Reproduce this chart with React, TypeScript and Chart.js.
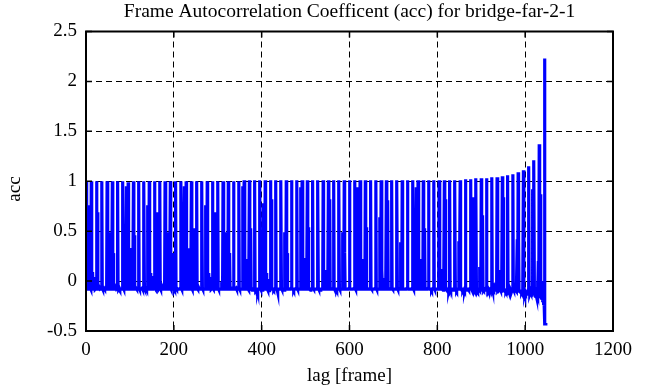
import React, { useEffect, useRef } from 'react';
import { Chart, registerables } from 'chart.js';

Chart.register(...registerables);

const chartTitle = 'Frame Autocorrelation Coefficent (acc) for bridge-far-2-1';
const xLabel = 'lag [frame]';
const yLabel = 'acc';
const xTicks = [0, 200, 400, 600, 800, 1000, 1200];
const yTicks = [-0.5, 0, 0.5, 1, 1.5, 2, 2.5];

// acc value for every lag 0..1047 (one row = 12 lags)
const acc: number[] = [
  1, .62, -.05, -.08, -.07, -.08, -.08, -.08, -.08, .76, -.07, -.08,
  1, -.07, -.08, .09, -.08, -.08, -.07, -.08, .04, -.08, -.08, -.07,
  1, -.06, .69, -.08, -.08, -.08, -.08, -.07, -.08, -.08, -.08, -.07,
  1, -.07, -.08, -.08, -.08, -.07, -.08, -.08, -.08, -.08, -.08, -.07,
  1, -.07, -.08, -.08, -.08, -.08, -.07, -.08, .49, -.08, -.08, -.07,
  1, -.07, .28, -.08, -.08, -.08, -.08, -.08, -.07, -.08, -.08, -.07,
  1, -.07, -.08, -.08, -.07, -.08, -.08, -.08, -.08, -.08, -.08, -.07,
  1, -.07, -.08, -.08, -.08, -.08, -.08, -.07, .95, -.08, -.08, -.07,
  .99, -.07, -.08, -.08, -.08, -.08, -.08, .33, -.08, -.08, -.08, -.07,
  1, -.07, .46, -.08, -.08, -.08, -.07, -.08, -.08, -.08, -.08, -.07,
  1, -.07, -.08, -.08, -.08, -.08, -.08, -.08, -.07, -.08, -.08, -.07,
  1, -.07, -.08, -.08, -.08, -.07, -.08, -.08, .76, -.08, -.08, -.07,
  1, -.07, -.08, .08, -.08, -.08, -.08, .05, -.08, -.08, -.08, -.07,
  1, -.07, -.08, -.08, .69, -.08, -.08, -.08, -.08, -.07, -.08, -.07,
  1, -.07, -.08, -.08, -.08, -.08, -.08, -.07, -.08, -.08, -.08, -.07,
  1, -.07, -.08, -.08, -.08, -.08, -.08, -.08, .49, -.08, -.08, -.07,
  1, -.07, -.08, -.08, .28, -.08, -.08, -.08, -.08, -.07, -.08, -.07,
  1, -.07, -.08, -.07, -.08, -.08, -.08, -.08, -.08, -.08, -.08, -.07,
  1, -.07, -.08, -.08, -.08, -.08, -.08, -.08, .95, -.08, -.08, -.07,
  1, -.07, -.08, -.08, -.08, -.08, -.07, -.08, .33, -.08, -.08, -.07,
  1, -.07, -.08, -.08, .53, -.08, -.08, -.08, -.08, -.08, -.08, -.07,
  1, -.07, -.08, -.08, -.08, -.07, -.08, -.08, -.08, -.08, -.08, -.07,
  1, -.07, -.08, -.08, -.08, -.08, -.08, -.08, -.08, .76, -.08, -.07,
  1, -.07, -.08, -.08, .08, -.08, -.08, -.08, .04, -.08, -.08, -.07,
  1, -.07, -.08, -.08, .69, -.08, -.08, -.07, -.08, -.08, -.08, -.07,
  1, -.07, -.08, -.08, -.08, -.08, -.08, -.08, -.08, -.07, -.08, -.07,
  1, -.07, -.08, -.08, -.08, -.08, -.08, -.08, .49, -.08, -.08, -.07,
  1, -.07, -.08, .28, -.08, -.08, -.08, -.08, -.08, -.08, -.07, -.07,
  1, -.07, -.08, -.08, -.08, -.08, -.07, -.08, -.08, -.08, -.08, -.07,
  1, -.07, -.08, -.08, -.08, -.08, -.08, -.08, -.08, .95, -.08, -.07,
  1.01, -.07, -.08, -.08, -.08, -.08, -.08, -.08, .22, -.08, -.09, -.07,
  1.01, -.07, -.08, .53, -.08, -.08, -.09, -.08, -.08, -.08, -.08, -.07,
  1.01, -.07, -.08, -.09, -.08, -.08, -.08, -.10, -.08, -.08, -.08, -.07,
  1.01, -.07, -.08, -.08, -.08, -.09, -.08, -.08, .78, -.08, -.08, -.07,
  1.01, -.07, -.08, .08, -.08, -.08, -.09, .02, -.08, -.08, -.11, -.07,
  1.01, -.07, .82, -.08, -.08, -.08, -.08, -.08, -.09, -.08, -.08, -.07,
  1.01, -.07, -.08, -.08, -.11, -.08, -.08, -.08, -.08, -.08, -.08, -.07,
  1.01, -.07, -.08, -.08, -.08, -.08, -.08, -.09, -.08, .49, -.08, -.07,
  1.01, -.07, .28, -.08, -.08, -.08, -.08, -.08, -.08, -.08, -.08, -.07,
  1.01, -.07, -.08, -.08, -.08, -.09, -.08, -.08, -.08, -.08, -.08, -.07,
  1.01, -.07, -.08, -.08, -.08, -.08, -.08, -.08, -.08, .94, -.08, -.07,
  1.01, -.07, -.08, -.08, -.08, -.08, -.08, -.08, .23, -.08, -.08, -.07,
  1.01, -.07, .54, -.08, -.08, -.08, -.08, -.09, -.08, -.08, -.08, -.07,
  1.01, -.07, -.08, -.08, -.08, -.08, -.08, -.08, -.08, -.08, -.08, -.07,
  1.01, -.07, -.08, -.08, -.08, -.09, -.08, -.08, -.08, -.08, -.08, -.07,
  1.01, -.07, .11, -.08, -.08, .03, -.08, -.08, -.08, -.08, -.08, -.07,
  1.01, -.07, -.08, .82, -.08, -.08, -.08, -.08, -.08, -.08, -.08, -.07,
  1.01, -.07, -.08, -.08, -.08, -.08, -.08, -.09, -.08, -.08, -.08, -.07,
  1.01, -.07, -.08, -.08, -.08, -.08, -.08, -.08, .49, -.08, -.08, -.07,
  1.01, .29, -.08, -.08, -.08, -.08, -.08, -.08, -.08, -.08, -.08, -.07,
  1.01, -.07, -.08, -.08, -.08, -.08, -.08, -.08, -.08, -.08, -.08, -.07,
  1.01, -.07, -.08, -.08, -.08, -.08, -.08, .94, -.08, -.08, -.08, -.07,
  1.01, -.07, -.08, -.08, -.08, -.08, -.08, -.08, .22, -.08, -.08, -.07,
  1.01, -.07, .54, -.08, -.08, -.08, -.08, -.08, -.08, -.08, -.08, -.07,
  1.01, -.07, -.08, -.08, -.08, -.08, -.08, -.08, -.08, -.08, -.08, -.07,
  1.01, -.07, -.08, -.08, -.08, -.08, -.08, -.08, -.08, .64, -.08, -.07,
  1.01, -.07, .11, -.08, -.08, -.08, .03, -.08, -.08, -.08, -.08, -.07,
  1.01, -.07, -.08, .81, -.08, -.08, -.08, -.08, -.08, -.08, -.08, -.07,
  1.01, -.07, -.08, -.08, -.08, -.08, -.08, -.08, -.08, -.08, -.08, -.07,
  1.01, -.07, -.08, -.08, -.08, -.08, -.08, -.08, .39, -.08, .39, -.07,
  1.01, -.07, -.08, -.08, -.08, -.08, -.08, -.08, -.08, -.08, -.08, -.07,
  1.01, -.07, -.08, -.08, -.08, -.08, -.08, -.08, -.08, -.08, -.08, -.07,
  1.01, -.07, -.08, -.08, -.08, -.08, -.08, -.08, .94, -.08, -.08, -.07,
  1.01, -.07, -.08, -.08, -.08, -.08, -.08, -.08, -.08, .22, -.08, -.07,
  1.01, -.07, -.08, .53, -.08, -.08, -.08, -.08, -.08, -.08, -.08, -.07,
  1.01, -.07, -.08, -.08, -.08, -.08, -.08, -.09, -.08, -.08, -.08, -.07,
  1.01, -.07, -.08, -.08, -.08, -.08, -.08, -.08, -.08, -.08, -.08, -.07,
  1.01, -.07, -.08, .12, -.08, -.08, .02, -.08, -.08, -.09, -.08, -.07,
  1.01, -.07, .82, -.08, -.08, -.09, -.08, -.08, -.08, -.08, -.09, -.07,
  1.01, -.07, -.08, -.09, -.08, -.08, -.08, -.08, -.09, -.08, -.08, -.07,
  1.01, -.07, -.08, -.08, -.09, -.08, -.08, -.08, -.08, .40, -.08, .40,
  1.01, -.07, -.08, -.09, -.08, -.08, -.09, -.08, -.08, -.08, -.09, -.07,
  1.02, -.07, -.08, -.08, -.09, -.08, -.08, -.09, -.08, -.08, -.08, -.07,
  1.02, -.07, -.08, -.09, -.08, -.08, -.08, .84, -.08, -.09, -.08, -.07,
  1.03, -.07, -.08, -.08, -.09, -.08, -.08, -.08, -.09, .14, -.08, -.07,
  1.03, -.07, -.09, .66, -.08, -.08, -.09, -.08, -.08, -.09, -.08, -.07,
  1.03, -.07, -.08, -.09, -.08, -.09, -.08, -.08, -.09, -.08, -.09, -.07,
  1.04, -.07, -.09, -.08, -.09, -.08, -.09, -.08, -.09, -.08, -.09, -.08,
  1.04, -.07, -.09, -.08, .11, -.09, -.09, -.08, -.09, -.10, -.09, -.08,
  1.05, -.07, .84, -.09, -.09, -.10, -.09, -.09, -.10, -.09, -.09, -.08,
  1.06, -.08, -.09, -.10, -.09, -.09, -.10, -.09, -.10, -.09, -.10, -.08,
  1.07, -.08, -.09, -.10, -.09, -.10, -.10, -.09, -.10, -.10, .42, -.08,
  1.09, .42, -.10, -.09, -.10, -.11, -.10, -.10, -.11, -.10, -.10, -.09,
  1.11, -.09, -.10, -.12, -.10, -.11, -.13, -.10, -.11, -.12, -.11, -.09,
  1.15, -.09, -.11, -.13, -.11, -.12, -.14, -.11, -.12, .92, -.12, -.10,
  1.21, -.10, -.13, -.15, -.12, -.14, -.16, -.13, 0, -.15, .2, -.11,
  1.37, -.12, -.15, .87, -.16, -.05, -.19, -.14, -.21, 0, -.24, -.2,
  2.23, -.43, -.43, -.42,
];

const FONT = "'Liberation Serif', 'Times New Roman', serif";

const framePlugin = {
  id: 'frameBox',
  afterDraw(chart: any) {
    const { ctx, chartArea } = chart;
    const { left, right, top, bottom } = chartArea;
    const xs = chart.scales.x;
    const ys = chart.scales.y;
    ctx.save();
    ctx.strokeStyle = '#000';
    ctx.lineWidth = 1.5;
    ctx.beginPath();
    for (const v of xTicks) {
      const px = xs.getPixelForValue(v);
      ctx.moveTo(px, bottom);
      ctx.lineTo(px, bottom - 6);
      ctx.moveTo(px, top);
      ctx.lineTo(px, top + 6);
    }
    for (const v of yTicks) {
      const py = ys.getPixelForValue(v);
      ctx.moveTo(left, py);
      ctx.lineTo(left + 6, py);
      ctx.moveTo(right, py);
      ctx.lineTo(right - 6, py);
    }
    ctx.stroke();
    ctx.lineWidth = 2;
    ctx.strokeRect(left, top, right - left, bottom - top);
    ctx.fillStyle = '#000';
    // title centred over the plot area
    ctx.font = `19.5px ${FONT}`;
    ctx.textAlign = 'center';
    ctx.textBaseline = 'alphabetic';
    ctx.fillText(chartTitle, (left + right) / 2, 17);
    // y-axis label, rotated
    ctx.font = `19px ${FONT}`;
    ctx.translate(15, 189);
    ctx.rotate(-Math.PI / 2);
    ctx.textBaseline = 'middle';
    ctx.fillText(yLabel, 0, 0);
    ctx.restore();
  },
};

export default function App() {
  const ref = useRef<HTMLCanvasElement>(null);
  useEffect(() => {
    if (!ref.current) return;
    const font = { family: FONT, size: 19, weight: 'normal' as const };
    const chart = new Chart(ref.current, {
      type: 'line',
      data: {
        datasets: [
          {
            data: acc.map((v, i) => ({ x: i, y: v })),
            borderColor: '#0000ff',
            borderWidth: 3.2,
            pointRadius: 0,
            tension: 0,
            fill: false,
          },
        ],
      },
      options: {
        animation: false,
        responsive: false,
        devicePixelRatio: 1,
        layout: { padding: { left: 0, right: 33, top: 31.5, bottom: 0 } },
        plugins: {
          legend: { display: false },
          tooltip: { enabled: false },
          title: { display: false },
        },
        scales: {
          x: {
            type: 'linear',
            min: 0,
            max: 1200,
            z: 1,
            afterBuildTicks: (s: any) => {
              s.ticks = xTicks.map((v) => ({ value: v }));
            },
            afterFit: (s: any) => {
              s.height = 56;
            },
            ticks: {
              color: '#000',
              font,
              padding: 8,
              maxRotation: 0,
              autoSkip: false,
              callback: (v: any) => String(v),
            },
            grid: { color: '#000', lineWidth: 1, drawTicks: false },
            border: { display: false, dash: [6, 4] },
            title: { display: true, text: xLabel, color: '#000', font, padding: { top: 0, bottom: 0 } },
          },
          y: {
            type: 'linear',
            min: -0.5,
            max: 2.5,
            z: 1,
            afterBuildTicks: (s: any) => {
              s.ticks = yTicks.map((v) => ({ value: v }));
            },
            afterFit: (s: any) => {
              s.width = 86;
            },
            ticks: {
              color: '#000',
              font,
              padding: 9,
              autoSkip: false,
              callback: (v: any) => String(v),
            },
            grid: { color: '#000', lineWidth: 1, drawTicks: false },
            border: { display: false, dash: [6, 4] },
            title: { display: false },
          },
        },
      },
      plugins: [framePlugin],
    });
    return () => chart.destroy();
  }, []);
  return (
    <div style={{ position: 'absolute', left: 0, top: 0, width: 646, height: 387, background: '#fff' }}>
      <canvas ref={ref} width={646} height={387} />
    </div>
  );
}
